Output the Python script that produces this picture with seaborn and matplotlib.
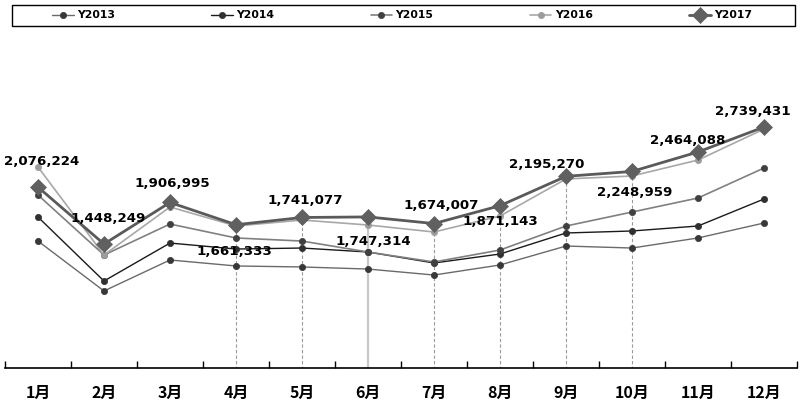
import matplotlib
matplotlib.use("Agg")
import matplotlib.pyplot as plt
from matplotlib.patches import Rectangle
import seaborn as sns
import pandas as pd

months = ["1月", "2月", "3月", "4月", "5月", "6月", "7月", "8月", "9月", "10月", "11月", "12月"]
series_names = ["Y2013", "Y2014", "Y2015", "Y2016", "Y2017"]

y2013 = [1481000, 930000, 1272000, 1206000, 1195000, 1172000, 1106000, 1217000, 1426000, 1404000, 1515000, 1680000]
y2014 = [1746000, 1040000, 1459000, 1393000, 1404000, 1360000, 1239000, 1338000, 1570000, 1592000, 1647000, 1945000]
y2015 = [1989000, 1327000, 1669000, 1515000, 1481000, 1360000, 1250000, 1382000, 1647000, 1801000, 1956000, 2287000]
y2016 = [2298000, 1327000, 1857000, 1647000, 1713000, 1658000, 1581000, 1757000, 2166000, 2199000, 2375000, 2717000]
y2017 = [2076224, 1448249, 1906995, 1661333, 1741077, 1747314, 1674007, 1871143, 2195270, 2248959, 2464088, 2739431]

# months that get a drop line (index), and which one is solid
drop_idx = [3, 4, 5, 6, 7, 8, 9]
solid_drop = 5

# label offsets in pixels (dx, dy) for the Y2017 value labels
label_offsets = [(4, 26), (4, 26), (2, 19), (-2, -27), (3, 17), (5, -25), (7, 18),
                 (0, -16), (-19, 12), (3, -21), (-10, 11), (-11, 16)]

values = [y2013, y2014, y2015, y2016, y2017]

sns.set_style("white")
plt.rcParams["font.family"] = ["DejaVu Sans", "Noto Sans CJK SC"]

fig = plt.figure(figsize=(8, 4.15), dpi=100)
ax = fig.add_axes([5 / 800, (415 - 368) / 415, 792 / 800, 333 / 415])

styles = {
    "Y2013": dict(color="#6a6a6a", lw=1.0, marker="o", ms=4.5, mfc="#383838", mec="#383838"),
    "Y2014": dict(color="#1a1a1a", lw=1.0, marker="o", ms=4.5, mfc="#303030", mec="#303030"),
    "Y2015": dict(color="#808080", lw=1.2, marker="o", ms=4.5, mfc="#404040", mec="#404040"),
    "Y2016": dict(color="#a8a8a8", lw=1.2, marker="o", ms=4.5, mfc="#9c9c9c", mec="#9c9c9c"),
    "Y2017": dict(color="#5a5a5a", lw=2.0, marker="D", ms=8, mfc="#606060", mec="#606060"),
}

xpos = list(range(len(months)))
for i in drop_idx:
    if i == solid_drop:
        ax.vlines(xpos[i], 0, y2017[i], colors="#c8c8c8", linewidth=1.6, zorder=1)
    else:
        ax.vlines(xpos[i], 0, y2017[i], colors="#9a9a9a", linewidth=0.8,
                  linestyles=(0, (3, 2)), zorder=1)

for name, vals in zip(series_names, values):
    df = pd.DataFrame({"x": xpos, "y": vals})
    st = styles[name]
    sns.lineplot(data=df, x="x", y="y", ax=ax, sort=False, color=st["color"],
                 linewidth=st["lw"], marker=st["marker"], markersize=st["ms"],
                 markerfacecolor=st["mfc"], markeredgecolor=st["mec"],
                 markeredgewidth=0.5, label=name, zorder=3)

for i, v in enumerate(y2017):
    dx, dy = label_offsets[i]
    ax.annotate(f"{v:,}", (xpos[i], v), xytext=(dx, dy), textcoords="offset pixels",
                ha="center", va="center", fontsize=9.6, fontweight="bold",
                color="#000000", zorder=5, family="DejaVu Sans")

ax.set_xlim(-0.5, 11.5)
ax.set_ylim(80000, 3755000)
ax.set_xlabel("")
ax.set_ylabel("")
ax.set_yticks([])
ax.set_xticks(xpos)
ax.set_xticklabels(months, fontsize=11.5, fontweight="bold", family="Noto Sans CJK SC",
                   color="#000000")
ax.set_xticks([p - 0.5 for p in xpos] + [11.5], minor=True)
ax.tick_params(axis="x", which="major", length=0, pad=12, bottom=True)
ax.tick_params(axis="x", which="minor", direction="in", length=5, width=1,
               color="#000000", bottom=True)
for s in ["top", "right", "left"]:
    ax.spines[s].set_visible(False)
ax.spines["bottom"].set_color("#000000")
ax.spines["bottom"].set_linewidth(1.2)

handles, labels = ax.get_legend_handles_labels()
ax.get_legend().remove()
fig.legend(handles, labels, loc="center", bbox_to_anchor=(402 / 800, 1 - 15.5 / 415),
           ncol=5, frameon=False,
           prop={"size": 7.8, "weight": "bold", "family": "DejaVu Sans"},
           handlelength=2.0, handletextpad=0.3, columnspacing=8.9,
           labelcolor="#000000")
fig.patches.append(Rectangle((12 / 800, 1 - 26 / 415), 783 / 800, 21 / 415,
                             transform=fig.transFigure, fill=False,
                             edgecolor="#000000", linewidth=1.0))

fig.savefig("out.png", dpi=100)
